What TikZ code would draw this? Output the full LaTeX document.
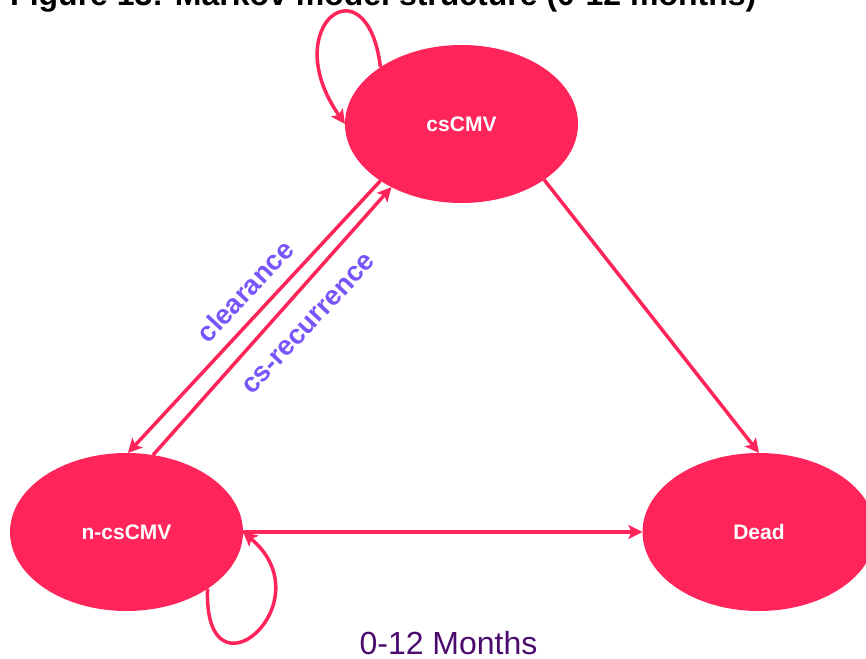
\documentclass[tikz,border=0pt]{standalone}
\usepackage{fontspec}
\setmainfont{Liberation Sans}
\usetikzlibrary{shapes.geometric, arrows.meta}
\definecolor{statered}{RGB}{255,36,90}
\definecolor{labpurple}{RGB}{120,85,250}
\definecolor{monthpurple}{RGB}{75,10,110}

\begin{document}
\begin{tikzpicture}[x=1pt,y=1pt,
  state/.style={ellipse, fill=statered, minimum width=233pt, minimum height=158pt, inner sep=0pt, outer sep=0pt, text=white, font=\bfseries\fontsize{21}{25}\selectfont},
  trans/.style={-{Stealth[length=14pt,width=14pt,inset=3pt]}, draw=statered, line width=3.5pt},
  lab/.style={text=labpurple, font=\bfseries\fontsize{27.5}{32}\selectfont, rotate=47, inner sep=0pt}]
\useasboundingbox (0,0) rectangle (866,-658);
\node[anchor=base west, inner sep=0pt, font=\bfseries\fontsize{32}{38}\selectfont](title) at (10,-6) {Figure 13: Markov model structure (0-12 months)};
\node[state](cs) at (461.5,-124) {csCMV};
\node[state](ncs) at (126.5,-532) {n-csCMV};
\node[state](dead) at (759,-532) {Dead};
\node[lab](clear) at (245,-291) {clearance};
\node[lab](recur) at (309,-324) {cs-recurrence};
\node[anchor=base, inner sep=0pt, text=monthpurple, font=\fontsize{32}{38}\selectfont](months) at (448.5,-654) {0-12 Months};

\draw [trans](cs.215) to (ncs.89);
\draw [trans](ncs.71) to (cs.222);
\draw [trans](cs.326) to (dead.north);
\draw [trans](ncs.east) to (dead.west);
\draw [trans](cs.145) .. controls +(97:110) and +(125:120) .. (cs.west);
\draw [trans](ncs.325) .. controls +(-92:120) and +(-40:110) .. (ncs.east);
\end{tikzpicture}
\end{document}
